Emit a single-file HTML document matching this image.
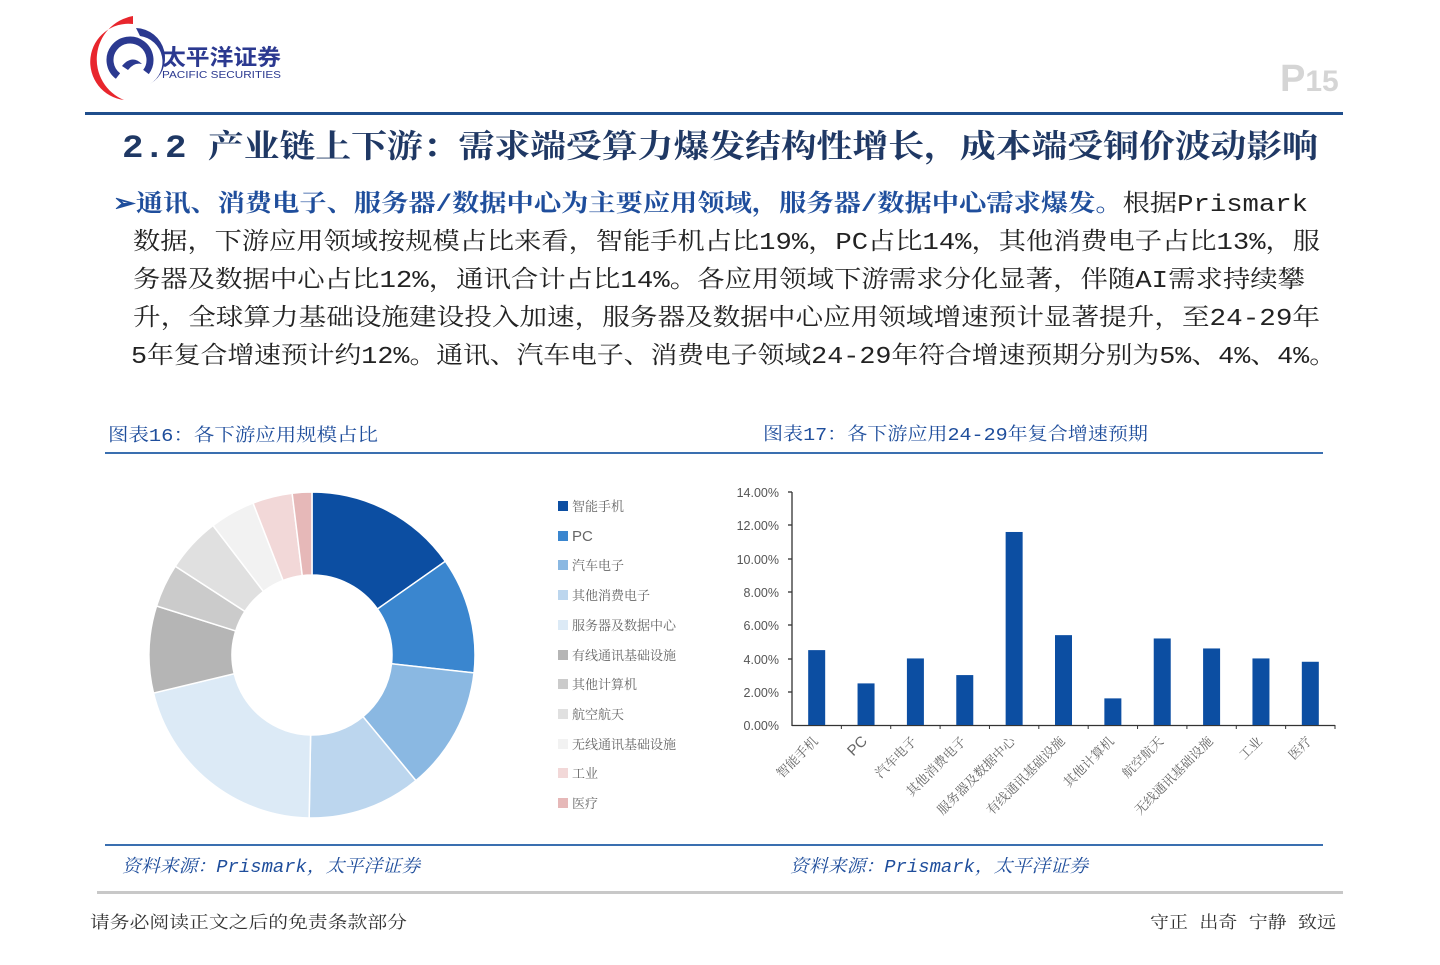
<!DOCTYPE html>
<html><head><meta charset="utf-8"><style>
html,body{margin:0;padding:0;background:#fff;}
svg{display:block;}
text{font-family:"Liberation Sans","Noto Sans CJK SC",sans-serif;}
.s,.s text{font-family:"Liberation Mono","Noto Serif CJK SC",serif;}
</style></head><body>
<svg width="1440" height="965" viewBox="0 0 1440 965" xmlns="http://www.w3.org/2000/svg">
<!-- logo -->
<path d="M133 16 L133 24 A38 38 0 0 0 124 100 A44 44 0 0 1 133 16 Z" fill="#e8262d"/>
<path d="M136 28 A30 30 0 0 1 150 84 A26 26 0 0 0 140 36 Z" fill="#2b3990"/>
<path d="M118 76 A20 20 0 1 1 146 72" fill="none" stroke="#2b3990" stroke-width="7"/>
<path d="M122 66 Q132 54 142 64 Q134 62 128 70 Z" fill="#2b3990"/>
<text x="162" y="65" font-size="22" font-weight="bold" fill="#2b3990" textLength="119" lengthAdjust="spacingAndGlyphs">太平洋证券</text>
<text x="162" y="78" font-size="10" fill="#2b3990" textLength="119" lengthAdjust="spacingAndGlyphs">PACIFIC SECURITIES</text>
<text x="1280" y="91" font-size="38" font-weight="bold" fill="#d5d5d5">P<tspan font-size="30">15</tspan></text>
<rect x="85" y="112" width="1258" height="3" fill="#1f4e8c"/>
<g class="s">
<text x="122" y="157" font-size="32" font-weight="bold" fill="#1f3864" textLength="1196" lengthAdjust="spacingAndGlyphs">2.2 产业链上下游：需求端受算力爆发结构性增长，成本端受铜价波动影响</text>
</g>
<g class="s" font-size="24" fill="#222">
<text x="113" y="211" textLength="1195" lengthAdjust="spacingAndGlyphs"><tspan fill="#1f4e9c" font-weight="bold">➢通讯、消费电子、服务器/数据中心为主要应用领域，服务器/数据中心需求爆发。</tspan>根据Prismark</text>
<text x="133" y="249" textLength="1187" lengthAdjust="spacingAndGlyphs">数据，下游应用领域按规模占比来看，智能手机占比19%，PC占比14%，其他消费电子占比13%，服</text>
<text x="133" y="287" textLength="1172" lengthAdjust="spacingAndGlyphs">务器及数据中心占比12%，通讯合计占比14%。各应用领域下游需求分化显著，伴随AI需求持续攀</text>
<text x="133" y="325" textLength="1187" lengthAdjust="spacingAndGlyphs">升，全球算力基础设施建设投入加速，服务器及数据中心应用领域增速预计显著提升，至24-29年</text>
<text x="131" y="363" textLength="1205" lengthAdjust="spacingAndGlyphs">5年复合增速预计约12%。通讯、汽车电子、消费电子领域24-29年符合增速预期分别为5%、4%、4%。</text>
</g>
<g class="s" font-size="18" fill="#1f4e9c">
<text x="108" y="441" textLength="270" lengthAdjust="spacingAndGlyphs">图表16：各下游应用规模占比</text>
<text x="763" y="440" textLength="385" lengthAdjust="spacingAndGlyphs">图表17：各下游应用24-29年复合增速预期</text>
</g>
<rect x="105" y="452" width="1218" height="2" fill="#3a6fb0"/>
<rect x="105" y="844" width="1218" height="2" fill="#3a6fb0"/>
<g class="s" font-size="18" fill="#1f4e9c" font-style="italic">
<text x="122" y="872" textLength="298" lengthAdjust="spacingAndGlyphs">资料来源：Prismark，太平洋证券</text>
<text x="790" y="872" textLength="298" lengthAdjust="spacingAndGlyphs">资料来源：Prismark，太平洋证券</text>
</g>
<rect x="97" y="891" width="1246" height="3" fill="#c8c8c8"/>
<g class="s" font-size="17" fill="#333">
<text x="90" y="928" textLength="317" lengthAdjust="spacingAndGlyphs">请务必阅读正文之后的免责条款部分</text>
<text x="1150" y="928" textLength="186" lengthAdjust="spacingAndGlyphs">守正 出奇 宁静 致远</text>
</g>
<g id="donut"></g>
<g font-size="13" fill="#666" class="s">
<rect x="558" y="501" width="10" height="10" fill="#0c4ea2"/><text x="572" y="511">智能手机</text>
<rect x="558" y="531" width="10" height="10" fill="#3a86cf"/><text x="572" y="541" style="font-family:'Liberation Sans',sans-serif" font-size="15">PC</text>
<rect x="558" y="560" width="10" height="10" fill="#8ab8e2"/><text x="572" y="570">汽车电子</text>
<rect x="558" y="590" width="10" height="10" fill="#bcd6ee"/><text x="572" y="600">其他消费电子</text>
<rect x="558" y="620" width="10" height="10" fill="#dceaf6"/><text x="572" y="630">服务器及数据中心</text>
<rect x="558" y="650" width="10" height="10" fill="#b5b5b5"/><text x="572" y="660">有线通讯基础设施</text>
<rect x="558" y="679" width="10" height="10" fill="#cbcbcb"/><text x="572" y="689">其他计算机</text>
<rect x="558" y="709" width="10" height="10" fill="#e0e0e0"/><text x="572" y="719">航空航天</text>
<rect x="558" y="739" width="10" height="10" fill="#f2f2f2"/><text x="572" y="749">无线通讯基础设施</text>
<rect x="558" y="768" width="10" height="10" fill="#f2d8d8"/><text x="572" y="778">工业</text>
<rect x="558" y="798" width="10" height="10" fill="#e6b8b8"/><text x="572" y="808">医疗</text>
</g>
<g font-size="12.5" fill="#555" text-anchor="end">
<text x="779" y="497">14.00%</text><text x="779" y="530">12.00%</text><text x="779" y="564">10.00%</text>
<text x="779" y="597">8.00%</text><text x="779" y="630">6.00%</text><text x="779" y="664">4.00%</text>
<text x="779" y="697">2.00%</text><text x="779" y="730">0.00%</text>
</g>
<g stroke="#333" stroke-width="1.3">
<line x1="792" y1="492" x2="792" y2="726"/><line x1="792" y1="725.5" x2="1335" y2="725.5"/>
<line x1="788" y1="492" x2="792" y2="492"/><line x1="788" y1="525" x2="792" y2="525"/><line x1="788" y1="559" x2="792" y2="559"/>
<line x1="788" y1="592" x2="792" y2="592"/><line x1="788" y1="625" x2="792" y2="625"/><line x1="788" y1="659" x2="792" y2="659"/>
<line x1="788" y1="692" x2="792" y2="692"/>
</g>
<g id="bars"></g>
</svg>
<script>
(function(){
var ns="http://www.w3.org/2000/svg";
var cx=312,cy=655,R=163,r=80;
var b=[0,54.9,96.3,140.4,181,256.5,287.5,303,322.6,338.8,353,360];
var col=["#0c4ea2","#3a86cf","#8ab8e2","#bcd6ee","#dceaf6","#b5b5b5","#cbcbcb","#e0e0e0","#f2f2f2","#f2d8d8","#e6b8b8"];
function p(a,rr){a=a*Math.PI/180;return [cx+rr*Math.sin(a),cy-rr*Math.cos(a)];}
var g=document.getElementById("donut");
for(var i=0;i<11;i++){var a0=b[i],a1=b[i+1],l=(a1-a0)>180?1:0;
var A=p(a0,R),B=p(a1,R),C=p(a1,r),D=p(a0,r);
var e=document.createElementNS(ns,"path");
e.setAttribute("d","M"+A+" A"+R+" "+R+" 0 "+l+" 1 "+B+" L"+C+" A"+r+" "+r+" 0 "+l+" 0 "+D+"Z");
e.setAttribute("fill",col[i]);e.setAttribute("stroke","#fff");e.setAttribute("stroke-width","1.5");g.appendChild(e);}
var v=[4.5,2.5,4.0,3.0,11.6,5.4,1.6,5.2,4.6,4.0,3.8];
var n=["智能手机","PC","汽车电子","其他消费电子","服务器及数据中心","有线通讯基础设施","其他计算机","航空航天","无线通讯基础设施","工业","医疗"];
var gb=document.getElementById("bars"),w=(1335-792)/11;
for(var j=0;j<11;j++){var x=792+w*j+w/2,h=v[j]*16.64;
var rc=document.createElementNS(ns,"rect");rc.setAttribute("x",x-8.5);rc.setAttribute("y",725-h);rc.setAttribute("width",17);rc.setAttribute("height",h);rc.setAttribute("fill","#0c4ea2");gb.appendChild(rc);
var tk=document.createElementNS(ns,"line");var tx=792+w*(j+1);tk.setAttribute("x1",tx);tk.setAttribute("x2",tx);tk.setAttribute("y1",725);tk.setAttribute("y2",729);tk.setAttribute("stroke","#333");gb.appendChild(tk);
var t=document.createElementNS(ns,"text");t.setAttribute("transform","translate("+(x+2)+",742) rotate(-45)");t.setAttribute("text-anchor","end");t.setAttribute("font-size",j==1?"15":"13");t.setAttribute("fill","#666");
t.setAttribute("style",j==1?"font-family:'Liberation Sans',sans-serif":"font-family:'Noto Serif CJK SC',serif");t.textContent=n[j];gb.appendChild(t);}
})();
</script>
</body></html>
